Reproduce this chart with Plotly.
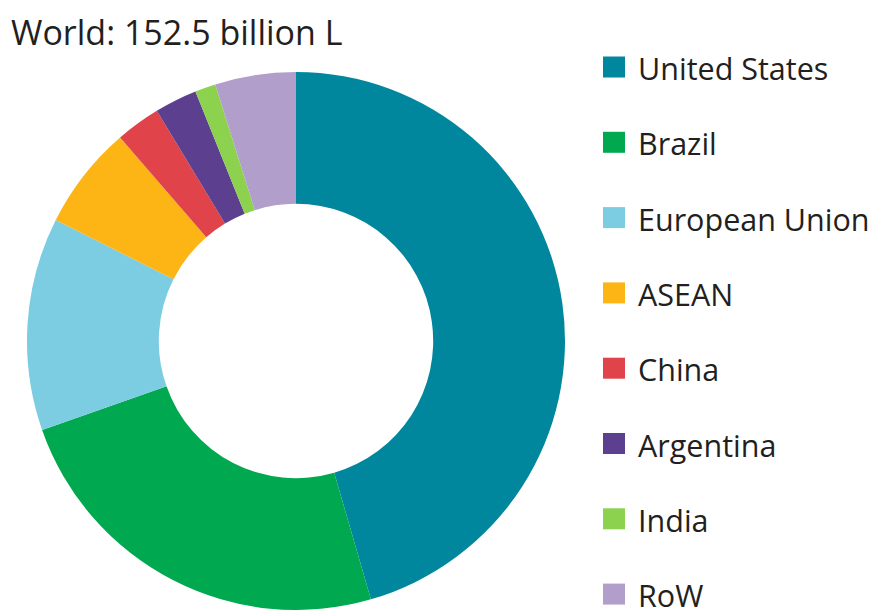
import plotly.graph_objects as go

# Ethanol production by region, billion litres
regions = ["United States", "Brazil", "European Union", "ASEAN",
           "China", "Argentina", "India", "RoW"]
volumes = [69.4, 36.8, 19.5, 9.5, 4.1, 3.9, 1.9, 7.4]
colors = ["#00879E", "#00A94F", "#7CCDE2", "#FDB515",
          "#E1434B", "#5C3F8E", "#8CD24F", "#B29ECB"]
title_text = "World: 152.5 billion L"

W, H = 873, 610
FONT = "Open Sans, Noto Sans, sans-serif"
TEXT_COLOR = "#231F20"

# donut geometry in pixels
cx, radius = 296, 269

fig = go.Figure(go.Pie(
    labels=regions,
    values=volumes,
    marker=dict(colors=colors, line=dict(width=0)),
    hole=0.51,
    sort=False,
    direction="clockwise",
    rotation=0,
    textinfo="none",
    hoverinfo="label+value+percent",
    domain=dict(x=[(cx - radius) / W, (cx + radius) / W],
                y=[0, 2 * radius / H]),
    showlegend=False,
))

# legend: colour square plus label, one row per region
row0, row_gap = 67, 75.3
sq_w, sq_h = 22, 21
sq_x = 603
shapes, annotations = [], []
for i, (name, col) in enumerate(zip(regions, colors)):
    yc = row0 + i * row_gap
    shapes.append(dict(
        type="rect", xref="paper", yref="paper",
        x0=sq_x / W, x1=(sq_x + sq_w) / W,
        y0=1 - (yc + sq_h / 2) / H, y1=1 - (yc - sq_h / 2) / H,
        fillcolor=col, line=dict(width=0),
    ))
    annotations.append(dict(
        text=name, xref="paper", yref="paper",
        x=(sq_x + sq_w + 11) / W, y=1 - (yc + 1) / H,
        xanchor="left", yanchor="middle", showarrow=False,
        font=dict(family=FONT, size=30.5, color=TEXT_COLOR),
    ))

annotations.append(dict(
    text=title_text, xref="paper", yref="paper",
    x=9 / W, y=1 - 32 / H, xanchor="left", yanchor="middle",
    showarrow=False,
    font=dict(family=FONT, size=34, color=TEXT_COLOR),
))

fig.update_layout(
    width=W, height=H,
    margin=dict(l=0, r=0, t=0, b=0),
    paper_bgcolor="white", plot_bgcolor="white",
    shapes=shapes, annotations=annotations,
)

fig.write_html("out.html")
